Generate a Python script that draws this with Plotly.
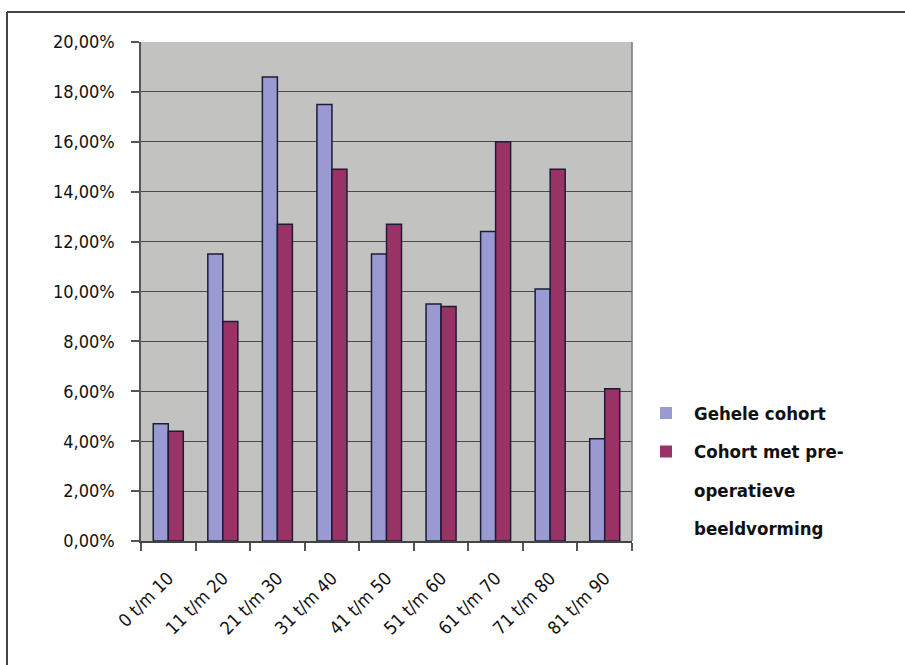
import plotly.graph_objects as go

categories = ["0 t/m 10", "11 t/m 20", "21 t/m 30", "31 t/m 40", "41 t/m 50",
              "51 t/m 60", "61 t/m 70", "71 t/m 80", "81 t/m 90"]
gehele_cohort = [4.7, 11.5, 18.6, 17.5, 11.5, 9.5, 12.4, 10.1, 4.1]
cohort_preop = [4.4, 8.8, 12.7, 14.9, 12.7, 9.4, 16.0, 14.9, 6.1]
series_names = ["Gehele cohort", "Cohort met pre-operatieve beeldvorming"]
legend_lines = [["Gehele cohort"], ["Cohort met pre-", "operatieve", "beeldvorming"]]
y_tickvals = [0, 2, 4, 6, 8, 10, 12, 14, 16, 18, 20]
y_ticktext = ["0,00%", "2,00%", "4,00%", "6,00%", "8,00%", "10,00%",
              "12,00%", "14,00%", "16,00%", "18,00%", "20,00%"]

COL_BLUE = "#9A9AD2"
COL_RED = "#993366"
FONT = "Liberation Sans Narrow, DejaVu Sans Condensed, Arial Narrow, sans-serif"

W, H = 905, 665
L, R, T, B = 141, 632, 42, 541  # plot area in px


def px(x):
    return (x - L) / (R - L)


def py(y):
    return (B - y) / (B - T)


fig = go.Figure()
for name, vals, col in [(series_names[0], gehele_cohort, COL_BLUE),
                        (series_names[1], cohort_preop, COL_RED)]:
    fig.add_trace(go.Bar(
        x=categories, y=vals, name=name,
        marker=dict(color=col, line=dict(color="#1c1c38", width=1.5)),
        showlegend=False,
    ))

fig.update_layout(
    width=W, height=H,
    margin=dict(l=L, r=W - R, t=T, b=H - B),
    paper_bgcolor="white",
    plot_bgcolor="#C2C2C0",
    barmode="group",
    bargap=0.45,
    bargroupgap=0,
    font=dict(family=FONT, size=18, color="#111"),
)
fig.update_yaxes(
    range=[0, 20], tickvals=y_tickvals, ticktext=y_ticktext,
    showgrid=True, gridcolor="#4a4a4a", gridwidth=1.3,
    ticks="outside", ticklen=8, tickcolor="#555", tickwidth=1.5,
    showline=True, linecolor="#555", linewidth=1.5,
    ticklabelstandoff=13, zeroline=False,
    tickfont=dict(family=FONT, size=18, color="#111"),
)
fig.update_xaxes(
    tickangle=-45, tickson="boundaries",
    ticks="outside", ticklen=8, tickcolor="#555", tickwidth=1.5,
    showline=True, linecolor="#444", linewidth=1.5,
    showgrid=False, ticklabelstandoff=18,
    tickfont=dict(family=FONT, size=18, color="#111"),
)
# right border of plot area
fig.add_shape(type="line", xref="paper", yref="paper", x0=1, x1=1, y0=0, y1=1,
              line=dict(color="#777", width=1.5))

# outer frame (top and left edges visible)
fig.add_shape(type="line", xref="paper", yref="paper",
              x0=px(7), x1=px(910), y0=py(12), y1=py(12),
              line=dict(color="#444", width=2))
fig.add_shape(type="line", xref="paper", yref="paper",
              x0=px(7), x1=px(7), y0=py(12), y1=py(670),
              line=dict(color="#444", width=2))

# legend built manually to match line spacing
legend_cols = [COL_BLUE, COL_RED]
row_y = 413
for lines, col in zip(legend_lines, legend_cols):
    fig.add_shape(type="rect", xref="paper", yref="paper",
                  x0=px(660), x1=px(672), y0=py(row_y - 6), y1=py(row_y + 6),
                  fillcolor=col, line=dict(width=0))
    for ln in lines:
        fig.add_annotation(xref="paper", yref="paper", x=px(692), y=py(row_y),
                           text="<b>" + ln + "</b>", showarrow=False,
                           xanchor="left", yanchor="middle",
                           font=dict(family=FONT, size=18.5, color="#111"))
        row_y += 38.5

fig.write_html("out.html")
